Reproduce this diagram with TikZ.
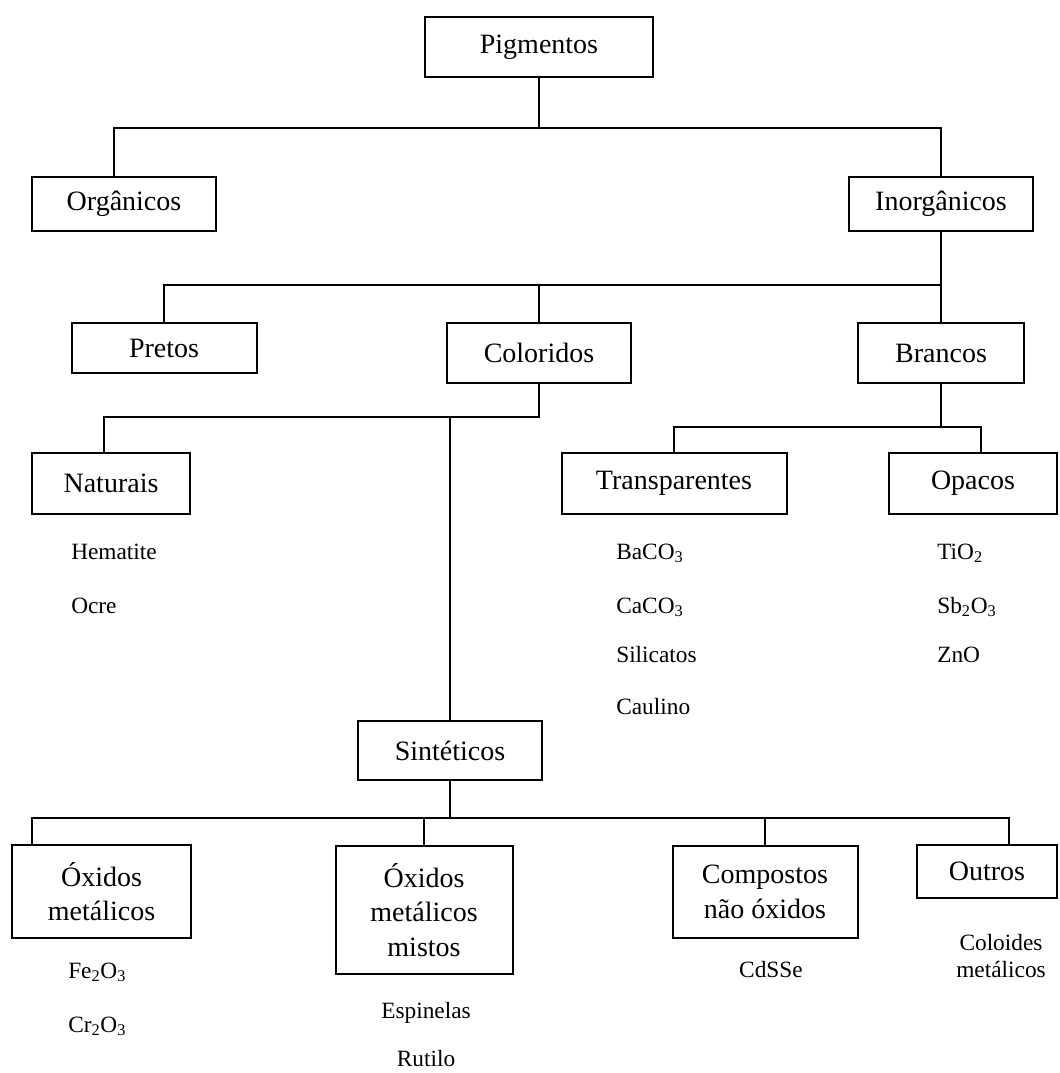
\documentclass[tikz,border=0pt]{standalone}
\usepackage{fontspec}
\setmainfont{Liberation Serif}
\usepackage{tikz}

\begin{document}
\begin{tikzpicture}[x=0.75pt, y=-0.75pt,
	box/.style={draw, line width=1.5pt, rectangle, align=center, inner sep=0pt, font=\fontsize{21}{26}\selectfont},
	item/.style={anchor=base west, inner sep=0pt, font=\fontsize{17.5}{20}\selectfont},
	link/.style={line width=1.1pt}]
	\useasboundingbox (0,0) rectangle (1059,1073);
	\node [box, minimum width=171pt, minimum height=45pt] (pig) at (539,47) {Pigmentos};
	\node [box, minimum width=138pt, minimum height=40.5pt] (org) at (124,204) {Orgânicos};
	\node [box, minimum width=138pt, minimum height=40.5pt] (inorg) at (941,204) {Inorgânicos};
	\node [box, minimum width=138.75pt, minimum height=37.5pt] (pretos) at (164,348) {Pretos};
	\node [box, minimum width=138pt, minimum height=45pt] (colo) at (539,353) {Coloridos};
	\node [box, minimum width=124.5pt, minimum height=45pt] (bran) at (941,353) {Brancos};
	\node [box, minimum width=118.5pt, minimum height=45.75pt] (nat) at (111,483.5) {Naturais};
	\node [box, minimum width=168.75pt, minimum height=45.75pt] (transp) at (674,483.5) {Transparentes};
	\node [box, minimum width=126pt, minimum height=45.75pt] (opac) at (973,483.5) {Opacos};
	\node [box, minimum width=138pt, minimum height=44.25pt] (sint) at (450,750.5) {Sintéticos};
	\node [box, minimum width=134.25pt, minimum height=69.75pt] (oxm) at (101.5,891.5) {Óxidos\\metálicos};
	\node [box, minimum width=132.75pt, minimum height=96pt] (oxmm) at (424,910) {Óxidos\\metálicos\\mistos};
	\node [box, minimum width=138.75pt, minimum height=69pt] (comp) at (765,892) {Compostos\\não óxidos};
	\node [box, minimum width=105pt, minimum height=39.75pt] (outr) at (987,871.5) {Outros};

	\coordinate (b1) at (539,128);
	\draw [link] (pig.south) -- (b1);
	\draw [link] ([xshift=-7.5pt]org.north) |- (b1) -| (inorg.north);
	\coordinate (b2) at (941,285);
	\draw [link] (inorg.south) -- (bran.north);
	\draw [link] (pretos.north) |- (b2);
	\draw [link] (colo.north) -- (colo.north |- b2);
	\coordinate (b3) at (539,417);
	\draw [link] (colo.south) -- (b3) -| ([xshift=-5.25pt]nat.north);
	\draw [link] (sint.north) -- (sint.north |- b3);
	\coordinate (b4) at (941,427);
	\draw [link] (bran.south) -- (b4) -| (transp.north);
	\draw [link] (b4) -| ([xshift=6pt]opac.north);
	\coordinate (b5) at (450,818);
	\draw [link] (sint.south) -- (b5);
	\draw [link] ([xshift=-52pt]oxm.north) |- (b5) -| ([xshift=16.5pt]outr.north);
	\draw [link] (oxmm.north) -- (oxmm.north |- b5);
	\draw [link] (comp.north) -- (comp.north |- b5);

	\node [item] (hem) at (71,559) {Hematite};
	\node [item] (ocre) at (71,613) {Ocre};
	\node [item] (baco) at (616,559) {BaCO\textsubscript{3}};
	\node [item] (caco) at (616,613) {CaCO\textsubscript{3}};
	\node [item] (sil) at (616,662) {Silicatos};
	\node [item] (caul) at (616,714) {Caulino};
	\node [item] (tio) at (937,559) {TiO\textsubscript{2}};
	\node [item] (sbo) at (937,613) {Sb\textsubscript{2}O\textsubscript{3}};
	\node [item] (zno) at (937,662) {ZnO};
	\node [item] (feo) at (68,978) {Fe\textsubscript{2}O\textsubscript{3}};
	\node [item] (cro) at (68,1032) {Cr\textsubscript{2}O\textsubscript{3}};
	\node [item, anchor=base] (esp) at (426,1018) {Espinelas};
	\node [item, anchor=base] (rut) at (426,1066) {Rutilo};
	\node [item, anchor=base] (cds) at (771,977) {CdSSe};
	\node [item, anchor=center, align=center] (col) at (1001,956) {Coloides\\metálicos};
\end{tikzpicture}
\end{document}
